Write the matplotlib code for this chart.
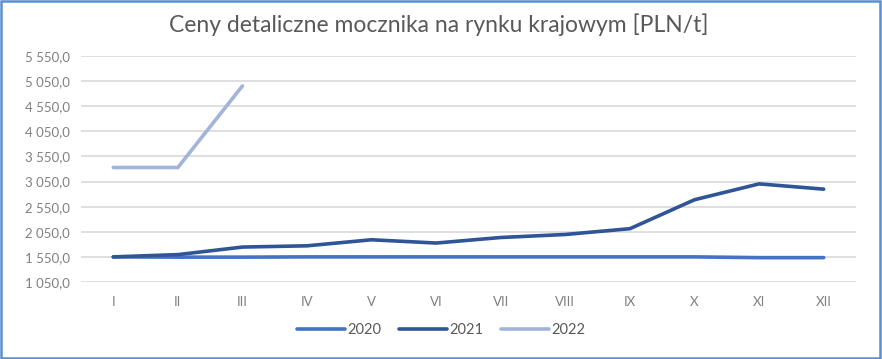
import matplotlib
matplotlib.use("Agg")
import matplotlib.pyplot as plt
from matplotlib.patches import Rectangle
from matplotlib.ticker import FuncFormatter

months = ["I", "II", "III", "IV", "V", "VI", "VII", "VIII", "IX", "X", "XI", "XII"]
y2020 = [1555, 1550, 1550, 1555, 1555, 1555, 1555, 1555, 1555, 1555, 1540, 1540]
y2021 = [1555, 1600, 1750, 1775, 1895, 1830, 1940, 2000, 2115, 2690, 3005, 2900]
y2022 = [3330, 3330, 4950]
yticks = [1050, 1550, 2050, 2550, 3050, 3550, 4050, 4550, 5050, 5550]

plt.rcParams['font.family'] = ['Lato', 'DejaVu Sans']

fig = plt.figure(figsize=(8.82, 3.59), dpi=100)
ax = fig.add_axes([0.0918, 0.2136, 0.8787, 0.6312])

x = list(range(len(months)))
c2020 = "#4472C4"
c2021 = "#2F5597"
c2022 = "#A2B3DC"
lw = 2.6
ax.plot(x, y2020, color=c2020, lw=lw, solid_capstyle="round", label="2020", zorder=3)
ax.plot(x, y2021, color=c2021, lw=lw, solid_capstyle="round", label="2021", zorder=4)
ax.plot(x[:len(y2022)], y2022, color=c2022, lw=lw, solid_capstyle="round", label="2022", zorder=3)

ax.set_xlim(-0.5, len(months) - 0.5)
ax.set_ylim(yticks[0], yticks[-1])
ax.set_yticks(yticks)
ax.yaxis.set_major_formatter(FuncFormatter(
    lambda v, p: f"{v:,.1f}".replace(",", " ").replace(".", ",")))
ax.set_xticks(x)
ax.set_xticklabels(months)
ax.grid(axis="y", color="#D9D9D9", lw=1.2)
ax.set_axisbelow(True)
for s in ax.spines.values():
    s.set_visible(False)
ax.tick_params(length=0, colors="#808080", labelsize=9.5)
ax.tick_params(axis="x", pad=10)
ax.tick_params(axis="y", pad=8)

fig.text(0.497, 0.93, "Ceny detaliczne mocznika na rynku krajowym [PLN/t]",
         ha="center", va="center", fontsize=16.5, color="#595959")

leg = fig.legend(loc="center", bbox_to_anchor=(0.5, 0.08), ncol=3, frameon=False,
                 fontsize=10.5, handlelength=3.3, columnspacing=1.2, handletextpad=0.15)
for t in leg.get_texts():
    t.set_color("#595959")

fig.patches.append(Rectangle((0.001, 0.003), 0.997, 0.994, transform=fig.transFigure,
                             fill=False, edgecolor="#5B8FD0", lw=1.8))

fig.savefig("out.png", dpi=100)
